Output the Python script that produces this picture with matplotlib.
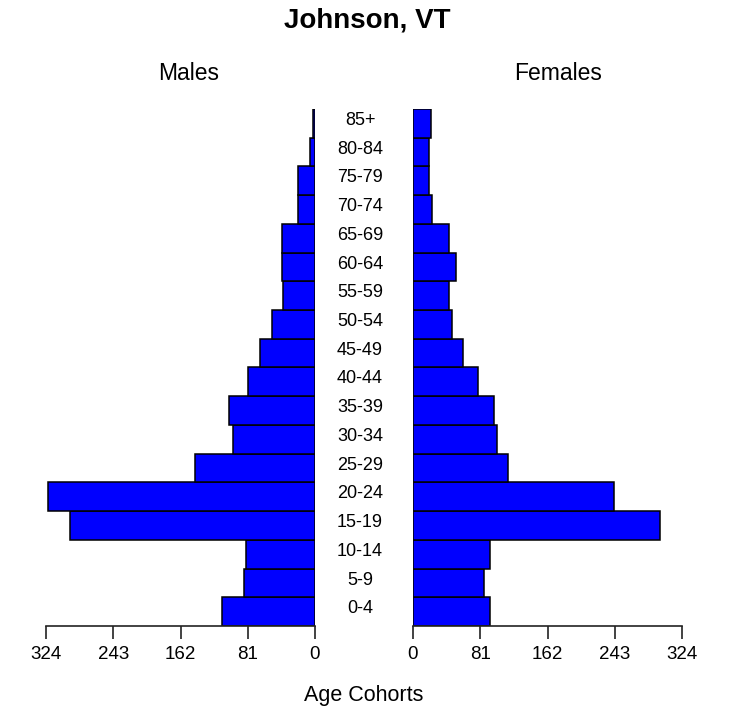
import matplotlib
matplotlib.use("Agg")
import matplotlib.pyplot as plt
import matplotlib.transforms as mtransforms

plt.rcParams['font.family'] = ['Liberation Sans', 'DejaVu Sans']

ages = ["0-4", "5-9", "10-14", "15-19", "20-24", "25-29", "30-34", "35-39",
        "40-44", "45-49", "50-54", "55-59", "60-64", "65-69", "70-74",
        "75-79", "80-84", "85+"]
males = [112, 86, 83, 295, 321, 144, 99, 103, 81, 66, 52, 38, 40, 40, 21, 21, 6, 2]
females = [93, 86, 93, 298, 242, 114, 101, 97, 78, 60, 47, 43, 52, 43, 23, 19, 19, 22]
ticks = [0, 81, 162, 243, 324]

W, H = 735, 717
fig = plt.figure(figsize=(W / 100, H / 100), dpi=100)
bottom = 1 - 626 / H
height = (626 - 109) / H
ax_m = fig.add_axes([46 / W, bottom, 269 / W, height])
ax_f = fig.add_axes([413 / W, bottom, 269 / W, height])

y = range(len(ages))
ax_m.barh(y, males, height=1.0, color='#0000ff', edgecolor='black', linewidth=1.1)
ax_f.barh(y, females, height=1.0, color='#0000ff', edgecolor='black', linewidth=1.1)

ax_m.set_xlim(324, 0)
ax_f.set_xlim(0, 324)
for ax in (ax_m, ax_f):
    ax.set_ylim(-0.5, len(ages) - 0.5)
    for s in ('top', 'left', 'right'):
        ax.spines[s].set_visible(False)
    ax.spines['bottom'].set_linewidth(1.2)
    ax.spines['bottom'].set_color('#222222')
    ax.set_yticks([])
    ax.set_xticks(ticks)
    ax.set_xticklabels([str(t) for t in ticks])
    ax.tick_params(axis='x', direction='out', length=9.5, width=1.2,
                   color='#222222', labelsize=13.5, pad=5)

# age labels sit slightly above the bar centres
tr = mtransforms.blended_transform_factory(fig.transFigure, ax_m.transData)
for i, a in enumerate(ages):
    ax_m.text(360 / W, i + 0.1, a, transform=tr, ha='center', va='center',
              fontsize=13, clip_on=False)

fig.text(367 / W, 1 - 21 / H, "Johnson, VT", ha='center', va='center',
         fontsize=20, fontweight='bold')
fig.text(189 / W, 1 - 73 / H, "Males", ha='center', va='center', fontsize=16.5)
fig.text(558 / W, 1 - 73 / H, "Females", ha='center', va='center', fontsize=16.5)
fig.text(364 / W, 1 - 696 / H, "Age Cohorts", ha='center', va='center', fontsize=15.5)

fig.savefig("out.png", dpi=100)
